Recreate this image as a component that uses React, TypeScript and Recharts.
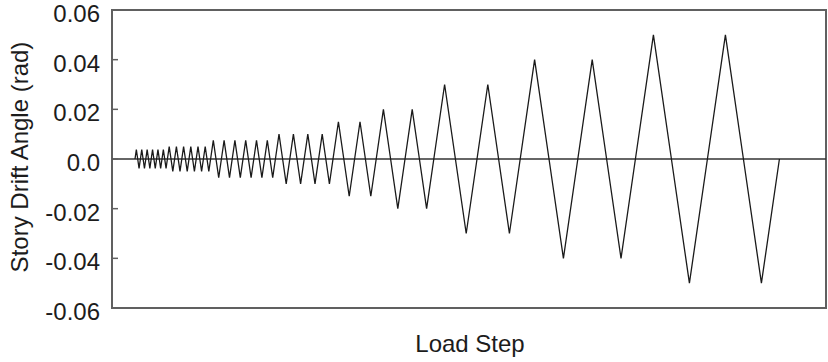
import React from 'react';
import { LineChart, Line, XAxis, YAxis, ReferenceLine, ReferenceArea } from 'recharts';

// loading protocol: drift amplitude of each group and number of cycles in it
const amplitudes = [0.00375, 0.005, 0.0075, 0.01, 0.015, 0.02, 0.03, 0.04, 0.05];
const cycleCounts = [6, 6, 6, 4, 2, 2, 2, 2, 2];
const yTicks = [-0.06, -0.04, -0.02, 0, 0.02, 0.04, 0.06];

// load step runs with the accumulated drift path, so every cycle of amplitude A spans 4A
const buildHistory = () => {
  const pts: { step: number; drift: number }[] = [{ step: 0, drift: 0 }];
  let s = 0;
  amplitudes.forEach((a, i) => {
    for (let c = 0; c < cycleCounts[i]; c++) {
      pts.push({ step: s + a, drift: a });
      pts.push({ step: s + 2 * a, drift: 0 });
      pts.push({ step: s + 3 * a, drift: -a });
      pts.push({ step: s + 4 * a, drift: 0 });
      s += 4 * a;
    }
  });
  return pts;
};

const history = buildHistory();
const xDomain = [-0.0639, 1.9194];

const FONT = '"Liberation Sans", Arial, sans-serif';
const TEXT = '#1c1c1c';
const FRAME = '#606060';

const DriftTick = ({ x, y, payload }: any) => (
  <g>
    <line x1={x + 12} x2={x + 18} y1={y} y2={y} stroke={FRAME} strokeWidth={1.5} />
    <text x={x} y={y + 12} textAnchor="end" fontSize={24} fontFamily={FONT} fill={TEXT}>
      {payload.value === 0 ? '0.0' : payload.value.toFixed(2)}
    </text>
  </g>
);

const App: React.FC = () => {
  return (
    <div style={{ position: 'absolute', left: 0, top: 0, width: 828, height: 362, background: '#fff' }}>
      <LineChart width={828} height={362} data={history} margin={{ top: 10, right: 2, bottom: 0, left: 0 }}>
        <XAxis
          dataKey="step"
          type="number"
          domain={xDomain}
          allowDataOverflow
          height={54}
          tick={false}
          tickLine={false}
          axisLine={false}
          label={() => (
            <text x={470} y={352} textAnchor="middle" fontSize={24} fontFamily={FONT} fill={TEXT}>
              Load Step
            </text>
          )}
        />
        <YAxis
          type="number"
          domain={[-0.06, 0.06]}
          ticks={yTicks}
          width={112}
          axisLine={false}
          tickLine={false}
          tickSize={6}
          tickMargin={6}
          tick={<DriftTick />}
          interval={0}
          label={() => (
            <text
              x={28}
              y={157}
              transform="rotate(-90 28 157)"
              textAnchor="middle"
              fontSize={24}
              fontFamily={FONT}
              fill={TEXT}
            >
              Story Drift Angle (rad)
            </text>
          )}
        />
        <ReferenceArea
          x1={xDomain[0]}
          x2={xDomain[1]}
          y1={-0.06}
          y2={0.06}
          fill="none"
          stroke={FRAME}
          strokeWidth={2}
          ifOverflow="extendDomain"
        />
        <ReferenceLine y={0} stroke="#333" strokeWidth={1.5} />
        <Line
          type="linear"
          dataKey="drift"
          stroke="#1a1a1a"
          strokeWidth={1.3}
          dot={false}
          isAnimationActive={false}
        />
      </LineChart>
    </div>
  );
};

export default App;
